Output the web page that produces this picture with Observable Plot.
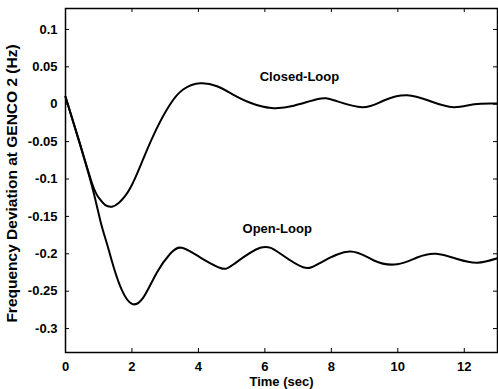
<!DOCTYPE html>
<html>
<head>
<meta charset="utf-8">
<script src="https://cdn.jsdelivr.net/npm/d3@7"></script>
<script src="https://cdn.jsdelivr.net/npm/@observablehq/plot@0.6"></script>
<style>
  html, body { margin: 0; padding: 0; background: #fff; }
  #chart svg { display: block; }
</style>
</head>
<body>
<div id="chart"></div>
<script>
// Closed-loop response (time in sec, frequency deviation in Hz)
const closedT = [0, 0.4, 0.8, 1.0, 1.2, 1.4, 1.6, 1.95, 2.35, 2.75, 3.15, 3.55, 4.06, 4.56, 5.0, 5.56, 6.2, 6.87, 7.6, 8.1, 8.93, 9.58, 10.28, 10.98, 11.68, 12.3, 13.0];
const closedV = [0.010, -0.048, -0.106, -0.125, -0.135, -0.137, -0.132, -0.112, -0.072, -0.032, 0.000, 0.020, 0.028, 0.024, 0.014, 0.002, -0.005, -0.002, 0.007, 0.005, -0.004, 0.005, 0.012, 0.004, -0.004, 0.000, 0.001];
// Open-loop response
const openT = [0, 0.4, 0.8, 1.05, 1.25, 1.45, 1.7, 2.0, 2.35, 2.75, 3.15, 3.5, 4.06, 4.66, 5.06, 5.86, 6.47, 7.15, 7.67, 8.55, 9.28, 9.98, 10.58, 11.15, 11.79, 12.39, 13.0];
const openV = [0.010, -0.048, -0.110, -0.156, -0.187, -0.218, -0.249, -0.267, -0.258, -0.225, -0.200, -0.192, -0.205, -0.219, -0.214, -0.192, -0.200, -0.218, -0.212, -0.197, -0.209, -0.214, -0.205, -0.200, -0.207, -0.212, -0.206];

const xTicks = [0, 2, 4, 6, 8, 10, 12];
const yTicks = [0.1, 0.05, 0, -0.05, -0.1, -0.15, -0.2, -0.25, -0.3];
const xDomain = [0, 13];
const yDomain = [-0.332, 0.128];
const xLabel = "Time (sec)";
const yLabel = "Frequency Deviation at GENCO 2 (Hz)";
const annotations = [
  {t: 7.04, v: 0.037, text: "Closed-Loop"},
  {t: 6.37, v: -0.167, text: "Open-Loop"}
];

const closed = closedT.map((t, i) => ({t, v: closedV[i]}));
const open = openT.map((t, i) => ({t, v: openV[i]}));

const W = 498, H = 389, mL = 65, mR = 1, mT = 8, mB = 37;
const innerW = W - mL - mR, innerH = H - mT - mB;
const tick = 4;

const chart = Plot.plot({
  width: W, height: H,
  marginLeft: mL, marginRight: mR, marginTop: mT, marginBottom: mB,
  x: {domain: xDomain},
  y: {domain: yDomain},
  style: {fontFamily: "'Liberation Sans', Arial, sans-serif", fontSize: "13px", color: "black", background: "white"},
  marks: [
    Plot.axisX({ticks: xTicks, tickSize: 0, tickPadding: 9, tickFormat: d => String(d), label: null, fontWeight: "bold"}),
    Plot.axisY({ticks: yTicks, tickSize: 0, tickPadding: 8, tickFormat: d => String(d), label: null, fontWeight: "bold"}),
    Plot.ruleX(xTicks, {x: d => d, insetTop: innerH - tick, stroke: "black"}),
    Plot.ruleX(xTicks, {x: d => d, insetBottom: innerH - tick, stroke: "black"}),
    Plot.ruleY(yTicks, {y: d => d, insetRight: innerW - tick, stroke: "black"}),
    Plot.ruleY(yTicks, {y: d => d, insetLeft: innerW - tick, stroke: "black"}),
    Plot.line(closed, {x: "t", y: "v", curve: "natural", stroke: "black", strokeWidth: 2}),
    Plot.line(open, {x: "t", y: "v", curve: "natural", stroke: "black", strokeWidth: 2}),
    Plot.text(annotations, {x: "t", y: "v", text: "text", fontWeight: "bold", fontSize: 13}),
    Plot.text([xLabel], {frameAnchor: "bottom", dy: 29, lineAnchor: "middle", textAnchor: "middle", fontWeight: "bold", fontSize: 13}),
    Plot.text([yLabel], {frameAnchor: "left", dx: -53, dy: 3, rotate: -90, textAnchor: "middle", lineAnchor: "middle", fontWeight: "bold", fontSize: 15.5}),
    Plot.frame({stroke: "black", strokeWidth: 1.5})
  ]
});
document.getElementById("chart").appendChild(chart);
</script>
</body>
</html>
